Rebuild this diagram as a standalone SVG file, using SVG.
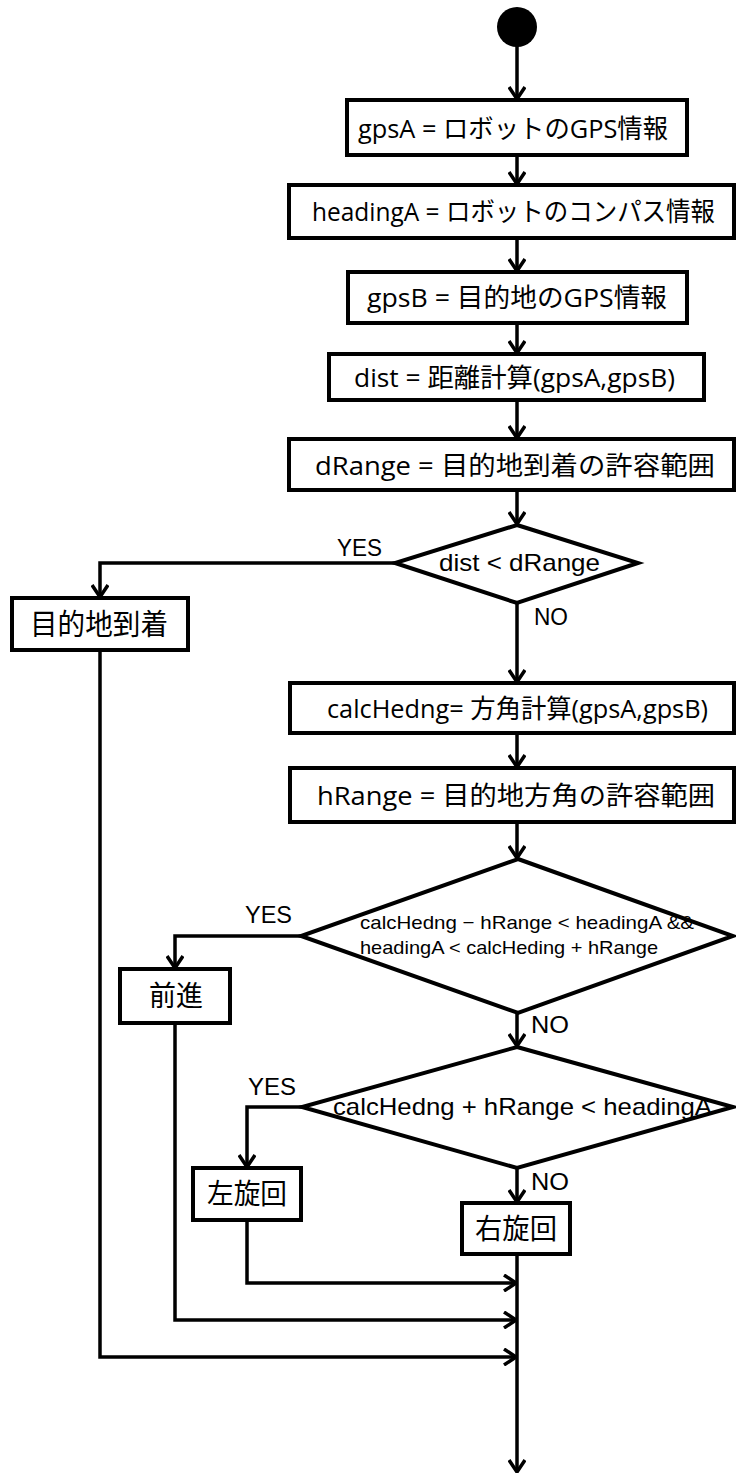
<svg xmlns="http://www.w3.org/2000/svg" width="736" height="1476" viewBox="0 0 736 1476">
<style>
.box{fill:#fff;stroke:#000;stroke-width:4}
.dia{fill:#fff;stroke:#000;stroke-width:4;stroke-linejoin:miter}
.t{font-family:"Open Sans","Noto Sans CJK JP",sans-serif;font-size:26px;fill:#000;text-anchor:start}
.c{font-family:"Liberation Sans","Noto Sans CJK JP",sans-serif;font-size:24px;fill:#000}
.lbl{font-family:"Liberation Sans","Noto Sans CJK JP",sans-serif;font-size:23px;fill:#000}
.ln{fill:none;stroke:#000;stroke-width:3.5;marker-end:url(#arr)}
</style>
<defs>
<marker id="arr" viewBox="0 0 14 18" refX="13" refY="9" markerWidth="14" markerHeight="18" markerUnits="userSpaceOnUse" orient="auto">
<path d="M1,1 L13,9 L1,17" fill="none" stroke="#000" stroke-width="3.5"/>
</marker>
</defs>
<g id="connectors">
<path class="ln" d="M517,45 L517,99"/>
<path class="ln" d="M517,155 L517,184"/>
<path class="ln" d="M517,238 L517,271"/>
<path class="ln" d="M517,323 L517,353"/>
<path class="ln" d="M517,400 L517,438"/>
<path class="ln" d="M517,490 L517,524"/>
<path class="ln" d="M395,563 L100,563 L100,597"/>
<path class="ln" d="M517,603 L517,682"/>
<path class="ln" d="M517,733 L517,767"/>
<path class="ln" d="M517,822 L517,858"/>
<path class="ln" d="M301,936 L175,936 L175,968"/>
<path class="ln" d="M517,1013 L517,1046"/>
<path class="ln" d="M302,1107 L247,1107 L247,1167"/>
<path class="ln" d="M517,1168 L517,1202"/>
<path class="ln" d="M517,1254 L517,1472"/>
<path class="ln" d="M247,1220 L247,1283 L516,1283"/>
<path class="ln" d="M175,1023 L175,1320 L516,1320"/>
<path class="ln" d="M100,650 L100,1357 L516,1357"/>
<text class="lbl" x="337" y="556" textLength="45" lengthAdjust="spacingAndGlyphs">YES</text>
<text class="lbl" x="534" y="625" textLength="34" lengthAdjust="spacingAndGlyphs">NO</text>
<text class="lbl" x="245" y="923" textLength="47" lengthAdjust="spacingAndGlyphs">YES</text>
<text class="lbl" x="531" y="1033" textLength="38" lengthAdjust="spacingAndGlyphs">NO</text>
<text class="lbl" x="248" y="1095" textLength="48" lengthAdjust="spacingAndGlyphs">YES</text>
<text class="lbl" x="531" y="1190" textLength="38" lengthAdjust="spacingAndGlyphs">NO</text>
</g>
<g id="start"><circle cx="517" cy="27" r="20" fill="#000"/></g>
<g id="n1"><rect class="box" x="347" y="100" width="340" height="55"/><text class="t" x="358" y="138" textLength="310" lengthAdjust="spacingAndGlyphs">gpsA = ロボットのGPS情報</text></g>
<g id="n2"><rect class="box" x="289" y="185" width="445" height="53"/><text class="t" x="312" y="221" textLength="403" lengthAdjust="spacingAndGlyphs">headingA = ロボットのコンパス情報</text></g>
<g id="n3"><rect class="box" x="348" y="272" width="339" height="51"/><text class="t" x="367" y="307" textLength="300" lengthAdjust="spacingAndGlyphs">gpsB = 目的地のGPS情報</text></g>
<g id="n4"><rect class="box" x="329" y="354" width="375" height="46"/><text class="t" x="354" y="387" textLength="321" lengthAdjust="spacingAndGlyphs">dist = 距離計算(gpsA,gpsB)</text></g>
<g id="n5"><rect class="box" x="289" y="439" width="445" height="51"/><text class="t" x="315" y="475" textLength="400" lengthAdjust="spacingAndGlyphs">dRange = 目的地到着の許容範囲</text></g>
<g id="d1"><polygon class="dia" points="517,525 638,563 517,603 395,563"/><text class="c" x="439" y="571" textLength="161" lengthAdjust="spacingAndGlyphs">dist &lt; dRange</text></g>
<g id="n6"><rect class="box" x="12" y="598" width="176" height="52"/><text class="t" x="30" y="635" style="font-size:29px" textLength="138" lengthAdjust="spacingAndGlyphs">目的地到着</text></g>
<g id="n7"><rect class="box" x="290" y="683" width="444" height="50"/><text class="t" x="327" y="718" textLength="381" lengthAdjust="spacingAndGlyphs">calcHedng= 方角計算(gpsA,gpsB)</text></g>
<g id="n8"><rect class="box" x="290" y="768" width="444" height="54"/><text class="t" x="317" y="805" textLength="398" lengthAdjust="spacingAndGlyphs">hRange = 目的地方角の許容範囲</text></g>
<g id="d2"><polygon class="dia" points="518,859 733,936 518,1013 301,936"/><text class="c" x="360" y="929" style="font-size:19px" textLength="334" lengthAdjust="spacingAndGlyphs">calcHedng − hRange &lt; headingA  &amp;&amp;</text><text class="c" x="360" y="954" style="font-size:19px" textLength="298" lengthAdjust="spacingAndGlyphs">headingA &lt; calcHeding + hRange</text></g>
<g id="n9"><rect class="box" x="120" y="969" width="110" height="54"/><text class="t" x="149" y="1006" style="font-size:28px" textLength="54" lengthAdjust="spacingAndGlyphs">前進</text></g>
<g id="d3"><polygon class="dia" points="517,1047 733,1107 517,1168 302,1107"/><text class="c" x="333" y="1115" textLength="379" lengthAdjust="spacingAndGlyphs">calcHedng + hRange &lt; headingA</text></g>
<g id="n10"><rect class="box" x="193" y="1168" width="108" height="52"/><text class="t" x="207" y="1204" style="font-size:28px" textLength="80" lengthAdjust="spacingAndGlyphs">左旋回</text></g>
<g id="n11"><rect class="box" x="462" y="1203" width="108" height="51"/><text class="t" x="475" y="1239" style="font-size:28px" textLength="82" lengthAdjust="spacingAndGlyphs">右旋回</text></g>
</svg>
